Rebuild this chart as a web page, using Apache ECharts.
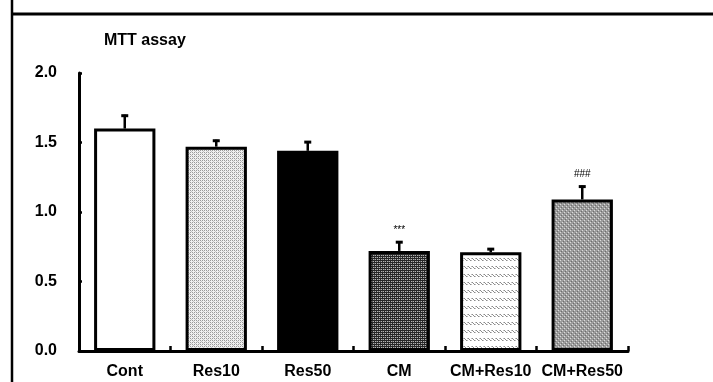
<!DOCTYPE html>
<html><head><meta charset="utf-8">
<script src="https://cdn.jsdelivr.net/npm/echarts@6/dist/echarts.min.js"></script>
<style>html,body{margin:0;padding:0;background:#fff}#c{width:713px;height:382px}</style>
</head><body><div id="c"></div>
<script>
const categories = ['Cont', 'Res10', 'Res50', 'CM', 'CM+Res10', 'CM+Res50'];
const means = [1.60, 1.47, 1.44, 0.72, 0.71, 1.09];
const errors = [0.10, 0.05, 0.07, 0.07, 0.03, 0.10];
const marks = ['', '', '', '***', '', '###'];
const yTicks = [0, 0.5, 1.0, 1.5, 2.0];

function tile(w, h, draw) {
  const c = document.createElement('canvas');
  c.width = w; c.height = h;
  const g = c.getContext('2d');
  draw(g);
  return { image: c, repeat: 'repeat' };
}
function px(g, col, pts) { g.fillStyle = col; pts.forEach(p => g.fillRect(p[0], p[1], 1, 1)); }

const fills = [
  '#ffffff',
  tile(4, 4, g => { g.fillStyle = '#f0f0f0'; g.fillRect(0,0,4,4); px(g, '#999999', [[0,0],[2,2],[2,0],[0,2]]); px(g,'#c4c4c4',[[1,1],[3,3]]); }),
  '#000000',
  tile(4, 4, g => { g.fillStyle = '#262626'; g.fillRect(0,0,4,4); px(g, '#b5b5b5', [[1,1],[3,1],[1,3],[3,3]]); px(g,'#5e5e5e',[[0,1],[2,3]]); }),
  tile(4, 8, g => { g.fillStyle = '#ffffff'; g.fillRect(0,0,4,8); px(g, '#8a8a8a', [[0,2],[1,3],[2,4]]); px(g, '#c0c0c0', [[3,2],[3,4]]); }),
  tile(4, 4, g => { g.fillStyle = '#9c9c9c'; g.fillRect(0,0,4,4); px(g, '#dcdcdc', [[0,0],[2,2]]); px(g,'#6e6e6e',[[1,3],[3,1]]); })
];

const chart = echarts.init(document.getElementById('c'), null, { renderer: 'canvas' });
const FF = 'Liberation Sans, Arial, sans-serif';
const font = { fontFamily: FF, fontWeight: 'bold', fontSize: 16, color: '#000' };

chart.setOption({
  animation: false,
  backgroundColor: '#fff',
  title: { text: 'MTT assay', left: 99, top: 28, textStyle: { fontFamily: FF, fontWeight: 'bold', fontSize: 16, color: '#000' } },
  grid: { left: 79, right: 85, top: 73, bottom: 31, containLabel: false },
  graphic: [
    { type: 'line', shape: { x1: 12, y1: 0, x2: 12, y2: 382 }, style: { stroke: '#000', lineWidth: 2.5 } },
    { type: 'line', shape: { x1: 11, y1: 14, x2: 713, y2: 14 }, style: { stroke: '#000', lineWidth: 3 } }
  ],
  xAxis: {
    type: 'category', data: categories,
    axisLine: { lineStyle: { color: '#000', width: 3 } },
    axisTick: { show: true, inside: true, length: 5, lineStyle: { color: '#000', width: 2.5 } },
    axisLabel: Object.assign({ margin: 13, interval: 0 }, font),
    splitLine: { show: false }
  },
  yAxis: {
    type: 'value', min: 0, max: 2, interval: 0.5,
    axisLine: { show: true, lineStyle: { color: '#000', width: 3 } },
    axisTick: { show: true, inside: true, length: 3, lineStyle: { color: '#000', width: 2.5 } },
    axisLabel: Object.assign({ margin: 22, formatter: v => yTicks.includes(v) ? v.toFixed(1) : '' }, font),
    splitLine: { show: false }
  },
  series: [
    {
      type: 'bar', barWidth: '67%',
      data: means.map((v, i) => ({ value: v, itemStyle: { color: fills[i], borderColor: '#000', borderWidth: 3 } })),
      z: 2
    },
    {
      type: 'custom', z: 3,
      data: means.map((v, i) => [i, v, v + errors[i]]),
      renderItem: (params, api) => {
        const x = api.coord([api.value(0), 0])[0];
        const yb = api.coord([0, api.value(1)])[1];
        const yt = api.coord([0, api.value(2)])[1];
        const m = marks[params.dataIndex];
        const children = [
          { type: 'line', shape: { x1: x, y1: yb, x2: x, y2: yt }, style: { stroke: '#000', lineWidth: 2.5 } },
          { type: 'line', shape: { x1: x - 3.5, y1: yt + 1, x2: x + 3.5, y2: yt + 1 }, style: { stroke: '#000', lineWidth: 3 } }
        ];
        if (m) children.push({ type: 'text', style: { text: m, x: x, y: yt - 6, align: 'center', verticalAlign: 'bottom', fontFamily: FF, fontSize: 10, fill: '#000' } });
        return { type: 'group', children };
      }
    }
  ]
});
</script></body></html>
